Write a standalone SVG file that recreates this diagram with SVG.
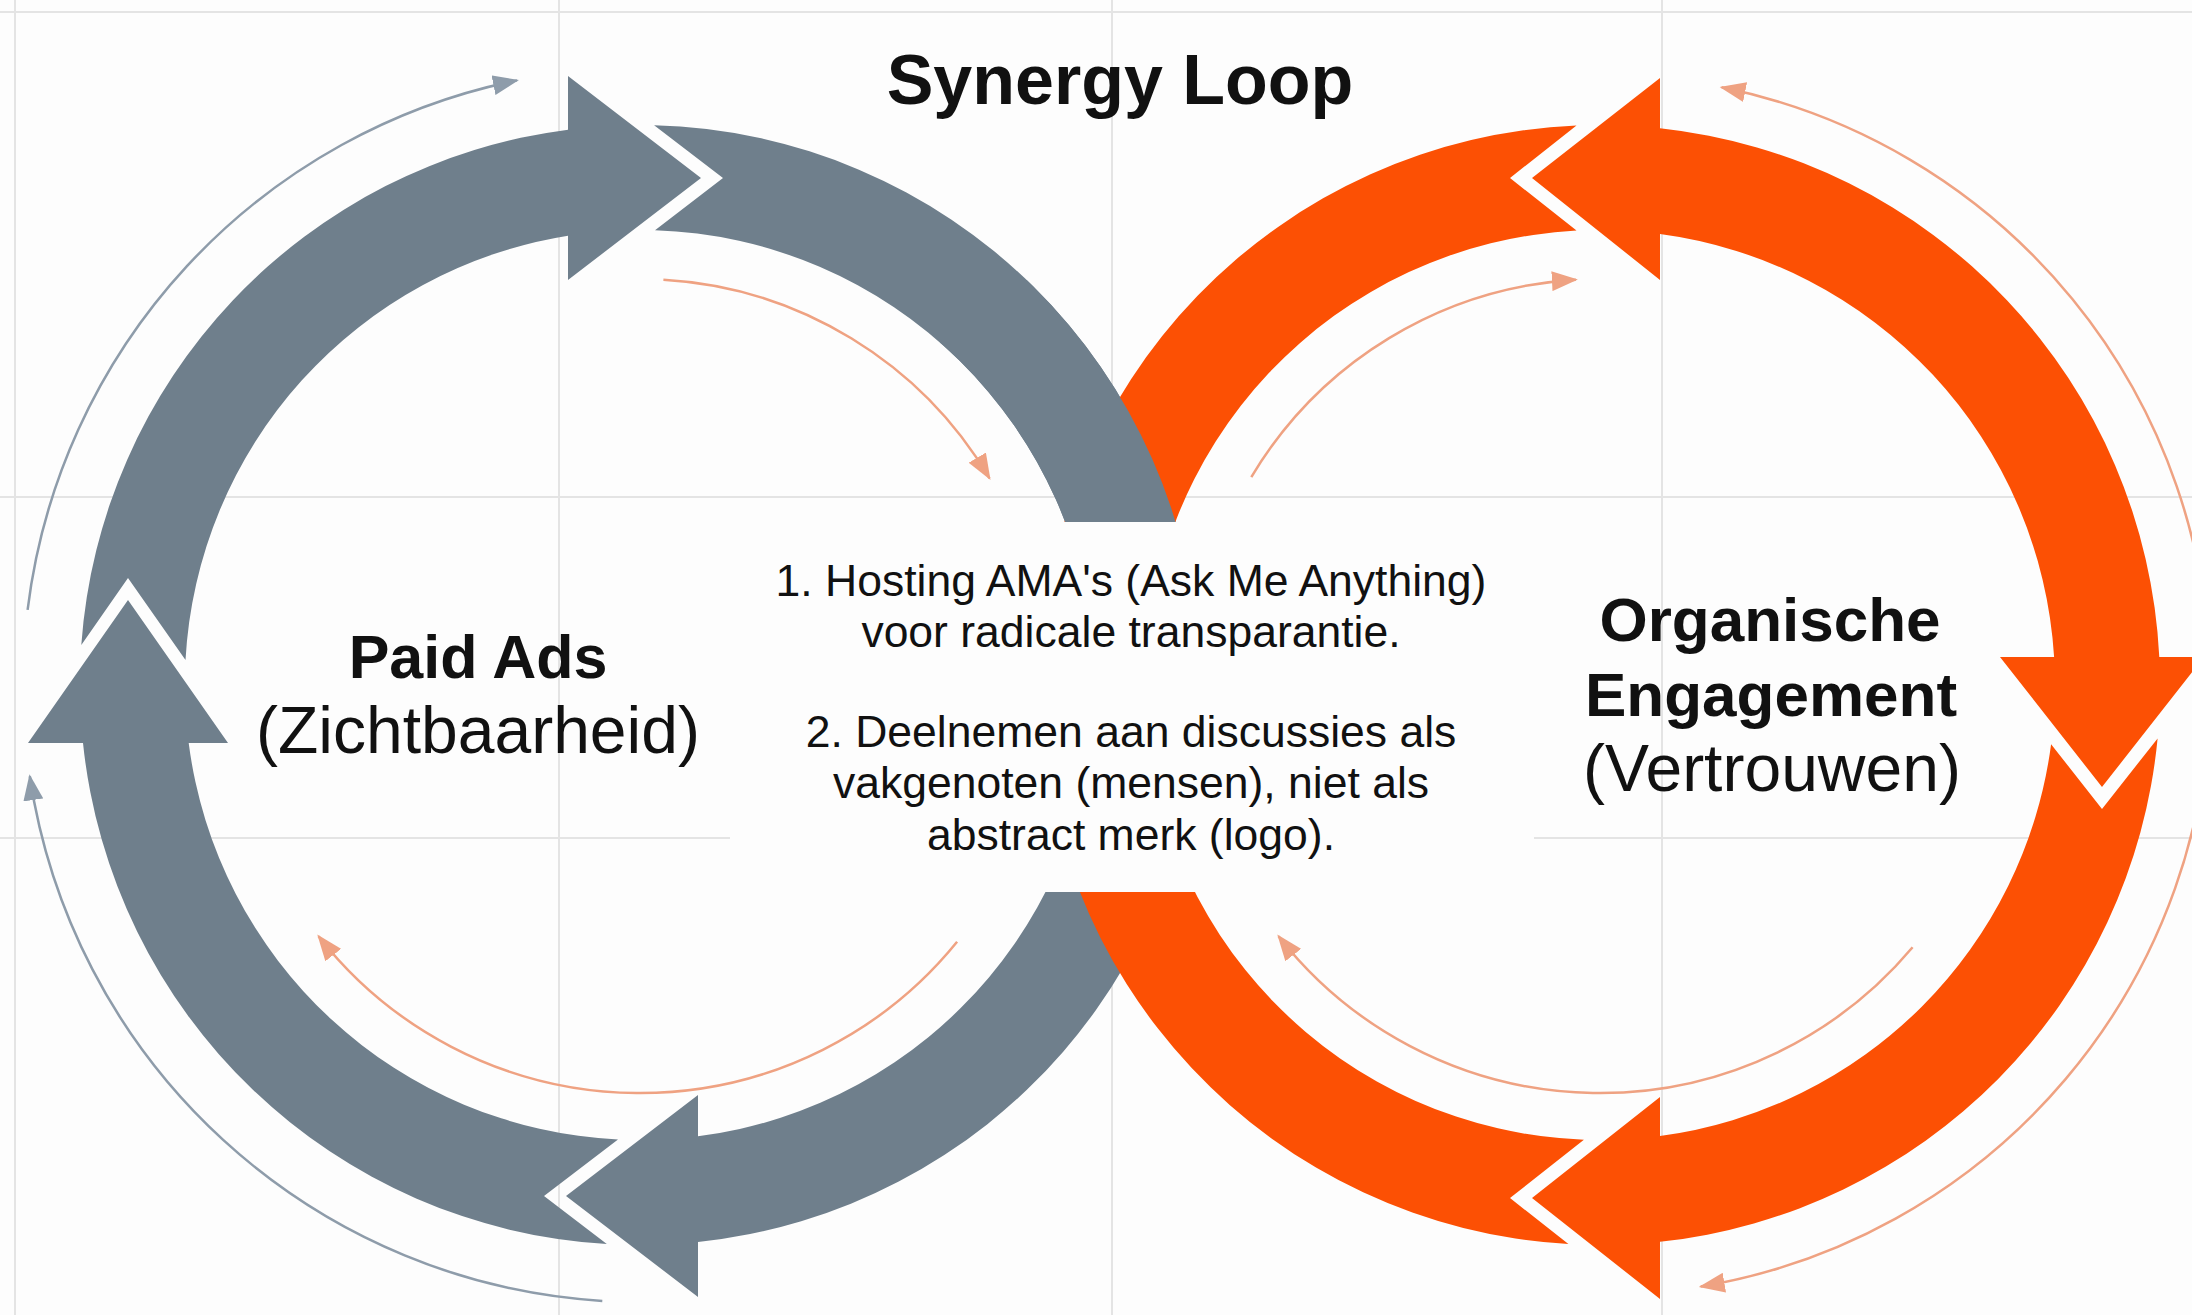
<svg xmlns="http://www.w3.org/2000/svg" width="2192" height="1315" viewBox="0 0 2192 1315">
<defs>
<style>
.grid{stroke:#e4e4e4;stroke-width:2;fill:none}
.gray{fill:#6f7f8c}
.orange{fill:#fc5004}
.thin-g{fill:none;stroke:#8e9caa;stroke-width:2.5}
.thin-o{fill:none;stroke:#efa282;stroke-width:2.5}
.t{font-family:"Liberation Sans",Arial,Helvetica,sans-serif;fill:#111;text-anchor:middle}
.b{font-weight:700}
</style>
<marker id="ah-g" viewBox="0 0 26 20" refX="24" refY="10" markerWidth="26" markerHeight="20" markerUnits="userSpaceOnUse" orient="auto"><path d="M0,0 L26,10 L0,20 Z" fill="#8e9caa"/></marker>
<marker id="ah-o" viewBox="0 0 26 20" refX="24" refY="10" markerWidth="26" markerHeight="20" markerUnits="userSpaceOnUse" orient="auto"><path d="M0,0 L26,10 L0,20 Z" fill="#efa282"/></marker>
<clipPath id="top-cross"><rect x="940" y="280" width="320" height="300"/></clipPath>
</defs>

<rect x="0" y="0" width="2192" height="1315" fill="#fdfdfd"/>

<g id="grid">
<line class="grid" x1="0" y1="12" x2="2192" y2="12"/>
<line class="grid" x1="0" y1="497" x2="2192" y2="497"/>
<line class="grid" x1="0" y1="838" x2="2192" y2="838"/>
<line class="grid" x1="15" y1="0" x2="15" y2="1315"/>
<line class="grid" x1="559" y1="0" x2="559" y2="1315"/>
<line class="grid" x1="1112" y1="0" x2="1112" y2="1315"/>
<line class="grid" x1="1662" y1="0" x2="1662" y2="1315"/>
</g>

<g id="paid-ads-loop">
<path id="g1" class="gray" d="M81.3,645 A560,560 0 0 1 568,129.65 L568,76 L701,178 L568,280 L568,235.73 A455,455 0 0 0 185.5,660 L128,578 Z"/>
<path id="g2" class="gray" d="M654.1,125.2 A560,560 0 0 1 698,1242 L698,1297 L566,1196 L698,1095 L698,1136.3 A455,455 0 0 0 655,230.2 L723,178 Z"/>
<path id="g3" class="gray" d="M606.8,1244.1 A560,560 0 0 1 83,743 L28,743 L128,600 L228,743 L188.7,743 A455,455 0 0 0 618,1139.5 L544,1196 Z"/>
</g>

<g id="organic-loop">
<path id="o1" class="orange" d="M1660,128.2 A560,560 0 0 1 2159.3,657 L2204,657 L2102,787 L2000,657 L2054.1,657 A455,455 0 0 0 1660,234 L1660,280 L1532,178 L1660,78 Z"/>
<path id="o2" class="orange" d="M2157.6,738.4 A560,560 0 0 1 1660,1241.8 L1660,1299 L1532,1198 L1660,1097 L1660,1136 A455,455 0 0 0 2051.1,744.2 L2102,809 Z"/>
<path id="o3" class="orange" d="M1568.4,1244.1 A560,560 0 0 1 1576.5,125.5 L1510,178 L1576.5,230.6 A455,455 0 0 0 1583.9,1139.7 L1510,1198 Z"/>
</g>

<g id="weave">
<use href="#g2" clip-path="url(#top-cross)"/>
</g>

<g id="connectors">
<path class="thin-g" marker-end="url(#ah-g)" d="M27.6,609.8 A617,617 0 0 1 517,80.4"/>
<path class="thin-g" marker-end="url(#ah-g)" d="M602.3,1300.9 A617,617 0 0 1 29.8,776.2"/>
<path class="thin-o" marker-end="url(#ah-o)" d="M663.4,279.7 A406,406 0 0 1 989.5,478.3"/>
<path class="thin-o" marker-end="url(#ah-o)" d="M957.1,941.8 A408,408 0 0 1 318.5,936.2"/>
<path class="thin-o" marker-end="url(#ah-o)" d="M1251.3,477.1 A406,406 0 0 1 1575.9,279.7"/>
<path class="thin-o" marker-end="url(#ah-o)" d="M1912.6,947.3 A408,408 0 0 1 1278.5,936.2"/>
<path class="thin-o" marker-end="url(#ah-o)" d="M2210,685 A610,610 0 0 0 1721.6,87.3"/>
<path class="thin-o" marker-end="url(#ah-o)" d="M2210,685 A610,610 0 0 1 1700.7,1286.6"/>
</g>

<rect id="center-panel" x="730" y="522" width="804" height="370" fill="#fdfdfd"/>

<g id="title">
<text class="t b" x="1120" y="104" font-size="70">Synergy Loop</text>
</g>

<g id="paid-ads">
<text class="t b" x="478" y="678" font-size="61">Paid Ads</text>
<text class="t" x="478" y="753" font-size="66">(Zichtbaarheid)</text>
</g>

<g id="organic-engagement">
<text class="t b" x="1770" y="641" font-size="62">Organische</text>
<text class="t b" x="1771" y="716" font-size="62">Engagement</text>
<text class="t" x="1772" y="791" font-size="66">(Vertrouwen)</text>
</g>

<g id="tactics">
<text class="t" x="1131" y="596" font-size="44.5">1. Hosting AMA's (Ask Me Anything)</text>
<text class="t" x="1131" y="647" font-size="44.5">voor radicale transparantie.</text>
<text class="t" x="1131" y="747" font-size="44.5">2. Deelnemen aan discussies als</text>
<text class="t" x="1131" y="798" font-size="44.5">vakgenoten (mensen), niet als</text>
<text class="t" x="1131" y="850" font-size="44.5">abstract merk (logo).</text>
</g>
</svg>
